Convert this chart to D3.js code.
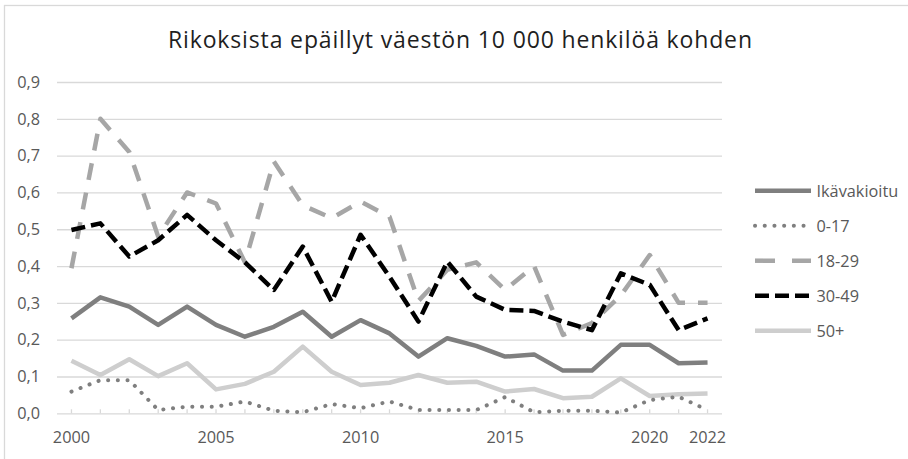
<!DOCTYPE html>
<html>
<head>
<meta charset="utf-8">
<script src="https://cdn.jsdelivr.net/npm/d3@7"></script>
<style>
	body { margin: 0; background: #fff; }
	svg { display: block; font-family: "Open Sans", sans-serif; }
</style>
</head>
<body>
<div id="chart"></div>
<script>
	// Values
	var years = [2000, 2001, 2002, 2003, 2004, 2005, 2006, 2007, 2008, 2009, 2010, 2011,
		2012, 2013, 2014, 2015, 2016, 2017, 2018, 2019, 2020, 2021, 2022];
	var year_labels = [2000, 2005, 2010, 2015, 2020, 2022];
	var y_ticks = [0, 0.1, 0.2, 0.3, 0.4, 0.5, 0.6, 0.7, 0.8, 0.9];

	var ikavakioitu = [0.258, 0.315, 0.29, 0.24, 0.29, 0.24, 0.208, 0.235, 0.276, 0.208, 0.253, 0.217,
		0.154, 0.204, 0.183, 0.154, 0.16, 0.116, 0.116, 0.186, 0.186, 0.136, 0.138];
	var age_0_17 = [0.059, 0.09, 0.09, 0.009, 0.018, 0.018, 0.032, 0.007, 0.003, 0.025, 0.014, 0.032,
		0.009, 0.009, 0.009, 0.044, 0.003, 0.007, 0.007, 0.002, 0.036, 0.045, 0.009];
	var age_18_29 = [0.394, 0.80, 0.71, 0.48, 0.60, 0.57, 0.41, 0.684, 0.565, 0.53, 0.575, 0.534,
		0.305, 0.39, 0.41, 0.335, 0.40, 0.213, 0.245, 0.32, 0.43, 0.30, 0.30];
	var age_30_49 = [0.498, 0.516, 0.426, 0.47, 0.539, 0.47, 0.41, 0.335, 0.453, 0.303, 0.485, 0.371,
		0.249, 0.412, 0.317, 0.281, 0.278, 0.249, 0.226, 0.38, 0.349, 0.226, 0.258];
	var age_50 = [0.143, 0.104, 0.147, 0.101, 0.136, 0.065, 0.08, 0.113, 0.181, 0.113, 0.077, 0.083,
		0.104, 0.083, 0.086, 0.059, 0.066, 0.041, 0.045, 0.095, 0.047, 0.052, 0.054];

	var series = [
		{name: "Ikävakioitu", values: ikavakioitu, color: "#7f7f7f", width: 4.5, dash: null, cap: "butt"},
		{name: "0-17", values: age_0_17, color: "#7f7f7f", width: 4, dash: "0.1,9.6", cap: "round"},
		{name: "18-29", values: age_18_29, color: "#a6a6a6", width: 4.5, dash: "17,13", cap: "butt"},
		{name: "30-49", values: age_30_49, color: "#000000", width: 4.5, dash: "14,6", cap: "butt"},
		{name: "50+", values: age_50, color: "#cecece", width: 4.5, dash: null, cap: "butt"}
	];

	var width = 908, height = 459;

	var svg = d3.select("#chart").append("svg")
		.attr("width", width)
		.attr("height", height);

	// chart frame (only left and top edges show in the picture)
	svg.append("rect")
		.attr("x", 4.5).attr("y", 5.5)
		.attr("width", 1000).attr("height", 1000)
		.attr("fill", "none")
		.attr("stroke", "#d9d9d9")
		.attr("stroke-width", 1.3);

	var x = d3.scaleBand().domain(years).range([57, 722]).padding(0);
	var y = d3.scaleLinear().domain([0, 0.9]).range([413.3, 82]);

	function xc(yr) { return x(yr) + x.bandwidth() / 2; }

	var comma = function(d) { return d3.format(".1f")(d).replace(".", ","); };

	// title - stretched a bit, the original font is narrower and taller
	svg.append("text")
		.attr("x", 460).attr("y", 48)
		.attr("text-anchor", "middle")
		.attr("font-size", 23)
		.attr("textLength", 584)
		.attr("lengthAdjust", "spacing")
		.attr("fill", "#1f1f1f")
		.text("Rikoksista epäillyt väestön 10 000 henkilöä kohden");

	// gridlines + y labels
	var yAxis = d3.axisLeft(y).tickValues(y_ticks).tickSize(-(722 - 57)).tickFormat(comma);
	var yg = svg.append("g")
		.attr("transform", "translate(57,0)")
		.call(yAxis);
	yg.select(".domain").remove();
	yg.selectAll(".tick line").attr("stroke", "#d9d9d9").attr("stroke-width", 1.3);
	yg.selectAll(".tick text")
		.attr("x", -17)
		.attr("font-size", 16.3)
		.attr("font-family", "Open Sans, sans-serif")
		.attr("fill", "#595959");

	// x axis: small ticks pointing up at each year
	var xg = svg.append("g").attr("transform", "translate(0," + y(0) + ")");
	xg.selectAll("line.tk")
		.data(years)
		.enter().append("line")
		.attr("class", "tk")
		.attr("x1", xc).attr("x2", xc)
		.attr("y1", 0).attr("y2", -4)
		.attr("stroke", "#d9d9d9")
		.attr("stroke-width", 1.3);
	xg.selectAll("text")
		.data(year_labels)
		.enter().append("text")
		.attr("x", xc)
		.attr("y", 30)
		.attr("text-anchor", "middle")
		.attr("font-size", 16.3)
		.attr("fill", "#595959")
		.text(function(d) { return d; });

	// lines
	var line = d3.line()
		.x(function(d, i) { return xc(years[i]); })
		.y(function(d) { return y(d); });

	// draw in the order so the black dashed ends up on top of the greys
	var draw_order = [4, 0, 1, 2, 3];
	draw_order.forEach(function(k) {
		var s = series[k];
		svg.append("path")
			.datum(s.values)
			.attr("d", line)
			.attr("fill", "none")
			.attr("stroke", s.color)
			.attr("stroke-width", s.width)
			.attr("stroke-linejoin", "round")
			.attr("stroke-linecap", s.cap)
			.attr("stroke-dasharray", s.dash);
	});

	// legend
	var legend = svg.append("g");
	series.forEach(function(s, i) {
		var ly = 190.7 + i * 35;
		legend.append("line")
			.attr("x1", 755).attr("x2", 811)
			.attr("y1", ly).attr("y2", ly)
			.attr("stroke", s.color)
			.attr("stroke-width", s.width)
			.attr("stroke-linecap", s.cap)
			.attr("stroke-dasharray", s.name == "18-29" ? "20,17" : (s.name == "30-49" ? "14,6" : s.dash));
		legend.append("text")
			.attr("x", 816.5).attr("y", ly)
			.attr("dy", "0.36em")
			.attr("font-size", 16.3)
			.attr("fill", "#595959")
			.text(s.name);
	});
</script>
</body>
</html>
